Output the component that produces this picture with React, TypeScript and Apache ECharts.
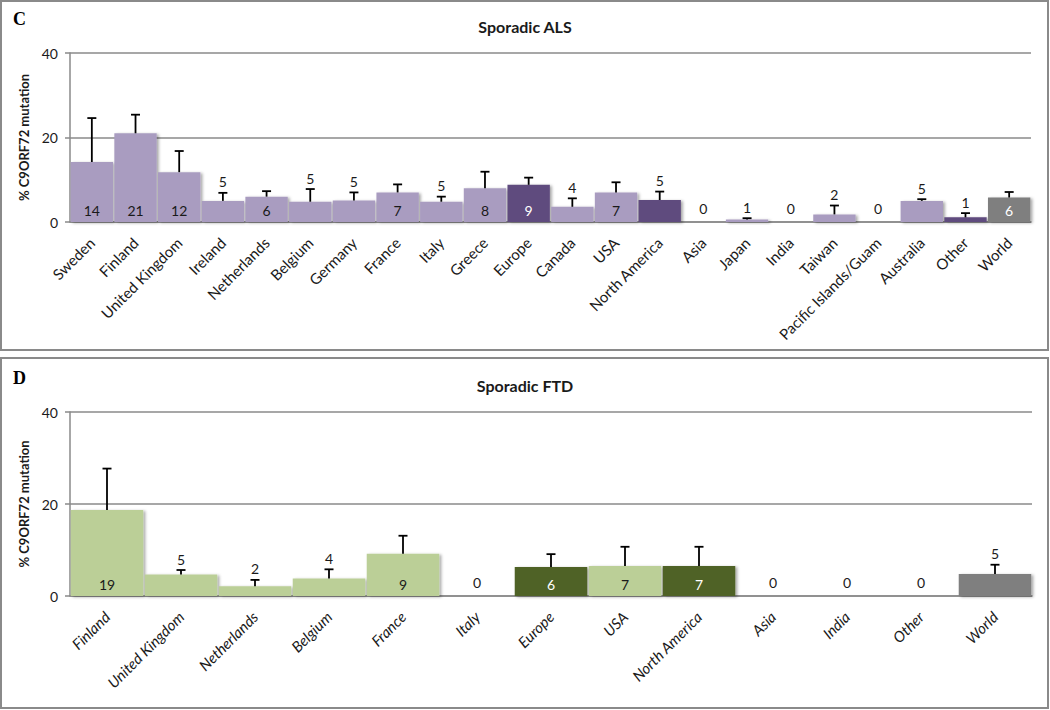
import React, { useEffect, useRef } from "react";
import * as echarts from "echarts";

// ---------- Panel C: Sporadic ALS ----------
const alsCategories = [
  "Sweden", "Finland", "United Kingdom", "Ireland", "Netherlands", "Belgium", "Germany",
  "France", "Italy", "Greece", "Europe", "Canada", "USA", "North America", "Asia", "Japan",
  "India", "Taiwan", "Pacific Islands/Guam", "Australia", "Other", "World",
];
const alsValues = [14.2, 21.0, 11.8, 5.0, 6.0, 4.8, 5.1, 7.0, 4.8, 8.0, 8.8, 3.6, 7.0, 5.2, 0, 0.6, 0, 1.8, 0, 5.0, 1.1, 5.8];
const alsErrorTop = [24.6, 25.4, 16.8, 6.9, 7.3, 7.8, 7.0, 8.9, 6.0, 11.9, 10.5, 5.6, 9.4, 7.2, 0, 0.9, 0, 3.9, 0, 5.4, 2.1, 7.1];
const alsLabels = [14, 21, 12, 5, 6, 5, 5, 7, 5, 8, 9, 4, 7, 5, 0, 1, 0, 2, 0, 5, 1, 6];
const alsLabelPos = ["in", "in", "in", "top", "in", "top", "top", "in", "top", "in", "in", "top", "in", "top", "top", "top", "top", "top", "top", "top", "top", "in"];
const alsKinds = ["c", "c", "c", "c", "c", "c", "c", "c", "c", "c", "r", "c", "c", "r", "r", "c", "c", "c", "c", "c", "r", "w"];

// ---------- Panel D: Sporadic FTD ----------
const ftdCategories = [
  "Finland", "United Kingdom", "Netherlands", "Belgium", "France", "Italy", "Europe",
  "USA", "North America", "Asia", "India", "Other", "World",
];
const ftdValues = [18.7, 4.7, 2.1, 3.8, 9.2, 0, 6.3, 6.5, 6.5, 0, 0, 0, 4.8];
const ftdErrorTop = [27.7, 5.65, 3.5, 5.8, 13.1, 0, 9.1, 10.7, 10.7, 0, 0, 0, 6.8];
const ftdLabels = [19, 5, 2, 4, 9, 0, 6, 7, 7, 0, 0, 0, 5];
const ftdLabelPos = ["in", "top", "top", "top", "in", "top", "in", "in", "in", "top", "top", "top", "top"];
const ftdKinds = ["c", "c", "c", "c", "c", "c", "r", "c", "r", "r", "c", "r", "w"];

const yTicks = [0, 20, 40];

const alsColors: Record<string, string> = { c: "#A99CC0", r: "#5F4B7E", w: "#7F7F7F" };
const ftdColors: Record<string, string> = { c: "#BBCF97", r: "#4F6228", w: "#7F7F7F" };

const FONT = "Lato";
const GRAY = "#8A8A8A";
const DARK_TEXT = "#1A1A1A";

function barData(values: number[], kinds: string[], labels: number[], pos: string[], colors: Record<string, string>) {
  return values.map((v, i) => ({
    value: v,
    itemStyle: { color: colors[kinds[i]] },
    label: {
      show: pos[i] === "in",
      position: "insideBottom",
      distance: 5,
      formatter: String(labels[i]),
      color: kinds[i] === "c" ? DARK_TEXT : "#FFFFFF",
      fontSize: 14,
      fontFamily: FONT,
    },
  }));
}

function errorRender(values: number[], errTop: number[], labels: number[], pos: string[]) {
  return (params: any, api: any) => {
    const i = params.dataIndex;
    const base = api.coord([i, values[i]]);
    const top = api.coord([i, errTop[i]]);
    const children: any[] = [];
    if (errTop[i] > values[i]) {
      children.push({
        type: "line",
        shape: { x1: top[0], y1: base[1], x2: top[0], y2: top[1] },
        style: { stroke: "#000", lineWidth: 1.8 },
      });
      children.push({
        type: "line",
        shape: { x1: top[0] - 4.5, y1: top[1], x2: top[0] + 4.5, y2: top[1] },
        style: { stroke: "#000", lineWidth: 1.8 },
      });
    }
    if (pos[i] === "top") {
      children.push({
        type: "text",
        x: top[0],
        y: top[1] - (errTop[i] > 0 ? 11 : 14),
        style: {
          text: String(labels[i]),
          fill: DARK_TEXT,
          fontSize: 14,
          fontFamily: FONT,
          align: "center",
          verticalAlign: "middle",
        },
      });
    }
    return { type: "group", children };
  };
}

function yAxisDef(gridIndex: number) {
  return {
    type: "value",
    gridIndex,
    min: yTicks[0],
    max: yTicks[yTicks.length - 1],
    interval: yTicks[1] - yTicks[0],
    name: "% C9ORF72 mutation",
    nameLocation: "middle",
    nameGap: 34,
    nameTextStyle: { fontFamily: FONT, fontWeight: "bold", fontSize: 13, color: DARK_TEXT },
    axisLine: { show: true, lineStyle: { color: GRAY, width: 1.5 } },
    axisTick: { show: true, length: 5, lineStyle: { color: GRAY, width: 1.5 } },
    axisLabel: { margin: 12, fontFamily: FONT, fontSize: 14, color: DARK_TEXT },
    splitLine: { show: true, lineStyle: { color: GRAY, width: 1.5 } },
  };
}

function xAxisDef(gridIndex: number, cats: string[], italic: boolean) {
  return {
    type: "category",
    gridIndex,
    data: cats,
    axisLine: { show: true, lineStyle: { color: GRAY, width: 1.5 } },
    axisTick: { show: false },
    axisLabel: {
      interval: 0,
      rotate: 45,
      margin: 18,
      fontFamily: FONT,
      fontSize: 15,
      fontStyle: italic ? "italic" : "normal",
      color: DARK_TEXT,
      hideOverlap: false,
    },
  };
}

const shadow = { shadowColor: "rgba(0,0,0,0.35)", shadowBlur: 3, shadowOffsetX: 2, shadowOffsetY: 1 };

export default function App() {
  const ref = useRef<HTMLDivElement>(null);
  useEffect(() => {
    if (!ref.current) return;
    const chart = echarts.init(ref.current, null, { renderer: "svg" });
    chart.setOption({
      animation: false,
      backgroundColor: "#FFFFFF",
      title: [
        { text: "Sporadic ALS", left: "center", top: 13, textStyle: { fontFamily: FONT, fontWeight: "bold", fontSize: 16, color: DARK_TEXT } },
        { text: "Sporadic FTD", left: "center", top: 372, textStyle: { fontFamily: FONT, fontWeight: "bold", fontSize: 16, color: DARK_TEXT } },
      ],
      graphic: [
        { type: "rect", shape: { x: 1, y: 1, width: 1047, height: 349 }, style: { fill: "none", stroke: "#8A8A8A", lineWidth: 2 }, z: 0 },
        { type: "rect", shape: { x: 1, y: 358, width: 1047, height: 350 }, style: { fill: "none", stroke: "#8A8A8A", lineWidth: 2 }, z: 0 },
        { type: "text", x: 13, y: 19, style: { text: "C", fontFamily: "Liberation Serif", fontWeight: "bold", fontSize: 18, fill: "#000", verticalAlign: "middle" } },
        { type: "text", x: 13, y: 378, style: { text: "D", fontFamily: "Liberation Serif", fontWeight: "bold", fontSize: 18, fill: "#000", verticalAlign: "middle" } },
      ],
      grid: [
        { left: 70, right: 19, top: 53, height: 169 },
        { left: 70, right: 18, top: 412, height: 184 },
      ],
      xAxis: [xAxisDef(0, alsCategories, false), xAxisDef(1, ftdCategories, true)],
      yAxis: [yAxisDef(0), yAxisDef(1)],
      series: [
        {
          type: "bar",
          xAxisIndex: 0,
          yAxisIndex: 0,
          barCategoryGap: "3%",
          itemStyle: shadow,
          data: barData(alsValues, alsKinds, alsLabels, alsLabelPos, alsColors),
          z: 2,
        },
        {
          type: "custom",
          xAxisIndex: 0,
          yAxisIndex: 0,
          clip: false,
          z: 3,
          renderItem: errorRender(alsValues, alsErrorTop, alsLabels, alsLabelPos),
          data: alsErrorTop.map((e, i) => [i, e]),
          encode: { x: 0, y: 1 },
        },
        {
          type: "bar",
          xAxisIndex: 1,
          yAxisIndex: 1,
          barCategoryGap: "2%",
          itemStyle: shadow,
          data: barData(ftdValues, ftdKinds, ftdLabels, ftdLabelPos, ftdColors),
          z: 2,
        },
        {
          type: "custom",
          xAxisIndex: 1,
          yAxisIndex: 1,
          clip: false,
          z: 3,
          renderItem: errorRender(ftdValues, ftdErrorTop, ftdLabels, ftdLabelPos),
          data: ftdErrorTop.map((e, i) => [i, e]),
          encode: { x: 0, y: 1 },
        },
      ],
    });
    return () => chart.dispose();
  }, []);
  return <div ref={ref} style={{ position: "absolute", left: 0, top: 0, width: 1050, height: 710 }} />;
}
